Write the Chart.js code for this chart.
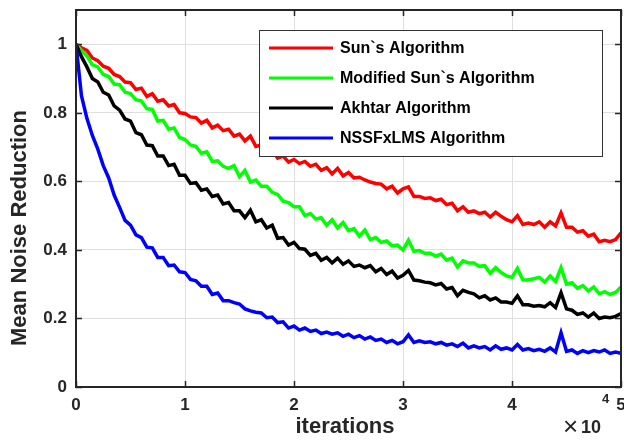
<!DOCTYPE html>
<html>
<head>
<meta charset="utf-8">
<script src="https://cdn.jsdelivr.net/npm/chart.js@4.4.0/dist/chart.umd.min.js"></script>
<style>
html, body { margin: 0; padding: 0; background: #fff; }
#wrap { width: 624px; height: 448px; }
</style>
</head>
<body>
<div id="wrap"><canvas id="chart" width="624" height="448"></canvas></div>
<script>
// --- Data (x in iterations) ---
const iterations = [
    0, 500, 1000, 1500, 2000, 2500, 3000, 3500, 4000, 4500,
    5000, 5500, 6000, 6500, 7000, 7500, 8000, 8500, 9000, 9500,
    10000, 10500, 11000, 11500, 12000, 12500, 13000, 13500, 14000, 14500,
    15000, 15500, 16000, 16500, 17000, 17500, 18000, 18500, 19000, 19500,
    20000, 20500, 21000, 21500, 22000, 22500, 23000, 23500, 24000, 24500,
    25000, 25500, 26000, 26500, 27000, 27500, 28000, 28500, 29000, 29500,
    30000, 30500, 31000, 31500, 32000, 32500, 33000, 33500, 34000, 34500,
    35000, 35500, 36000, 36500, 37000, 37500, 38000, 38500, 39000, 39500,
    40000, 40500, 41000, 41500, 42000, 42500, 43000, 43500, 44000, 44500,
    45000, 45500, 46000, 46500, 47000, 47500, 48000, 48500, 49000, 49500,
    50000
];

const sunAlgorithm = [
    1.000, 0.990, 0.982, 0.960, 0.952, 0.936, 0.930, 0.912, 0.906, 0.890,
    0.888, 0.868, 0.872, 0.848, 0.856, 0.834, 0.838, 0.820, 0.824, 0.800,
    0.798, 0.788, 0.786, 0.770, 0.778, 0.756, 0.764, 0.748, 0.752, 0.732,
    0.738, 0.718, 0.732, 0.702, 0.706, 0.688, 0.690, 0.668, 0.674, 0.656,
    0.664, 0.652, 0.658, 0.644, 0.650, 0.632, 0.640, 0.622, 0.638, 0.616,
    0.626, 0.610, 0.612, 0.604, 0.598, 0.594, 0.592, 0.578, 0.586, 0.566,
    0.578, 0.584, 0.556, 0.556, 0.550, 0.552, 0.544, 0.548, 0.532, 0.536,
    0.514, 0.526, 0.510, 0.514, 0.506, 0.510, 0.496, 0.510, 0.498, 0.488,
    0.482, 0.500, 0.474, 0.478, 0.474, 0.482, 0.466, 0.482, 0.470, 0.508,
    0.466, 0.466, 0.452, 0.456, 0.440, 0.446, 0.424, 0.428, 0.424, 0.430,
    0.450
];

const modifiedSun = [
    1.000, 0.982, 0.966, 0.940, 0.934, 0.912, 0.906, 0.884, 0.882, 0.860,
    0.856, 0.838, 0.834, 0.812, 0.810, 0.776, 0.778, 0.752, 0.756, 0.728,
    0.722, 0.706, 0.702, 0.682, 0.686, 0.658, 0.660, 0.644, 0.638, 0.646,
    0.614, 0.632, 0.598, 0.604, 0.586, 0.586, 0.568, 0.562, 0.542, 0.538,
    0.526, 0.526, 0.500, 0.506, 0.490, 0.494, 0.472, 0.488, 0.464, 0.480,
    0.456, 0.462, 0.440, 0.458, 0.430, 0.436, 0.422, 0.426, 0.412, 0.414,
    0.400, 0.428, 0.396, 0.398, 0.390, 0.390, 0.382, 0.388, 0.370, 0.376,
    0.350, 0.368, 0.362, 0.362, 0.352, 0.354, 0.332, 0.348, 0.334, 0.324,
    0.320, 0.346, 0.312, 0.312, 0.316, 0.320, 0.306, 0.324, 0.308, 0.348,
    0.300, 0.304, 0.288, 0.296, 0.280, 0.292, 0.272, 0.278, 0.270, 0.276,
    0.292
];

const akhtar = [
    1.000, 0.964, 0.934, 0.900, 0.890, 0.860, 0.852, 0.820, 0.808, 0.782,
    0.776, 0.742, 0.736, 0.706, 0.704, 0.674, 0.674, 0.646, 0.650, 0.618,
    0.618, 0.594, 0.596, 0.574, 0.578, 0.556, 0.560, 0.534, 0.538, 0.514,
    0.514, 0.494, 0.516, 0.482, 0.488, 0.464, 0.472, 0.434, 0.436, 0.414,
    0.422, 0.404, 0.402, 0.384, 0.390, 0.370, 0.378, 0.362, 0.376, 0.358,
    0.368, 0.352, 0.356, 0.348, 0.354, 0.336, 0.346, 0.328, 0.338, 0.318,
    0.326, 0.340, 0.312, 0.310, 0.306, 0.304, 0.298, 0.302, 0.286, 0.290,
    0.266, 0.282, 0.276, 0.272, 0.260, 0.266, 0.254, 0.260, 0.248, 0.248,
    0.244, 0.266, 0.240, 0.240, 0.236, 0.238, 0.234, 0.246, 0.232, 0.275,
    0.228, 0.224, 0.212, 0.216, 0.204, 0.216, 0.200, 0.204, 0.202, 0.206,
    0.214
];

const nssfxlms = [
    1.000, 0.850, 0.784, 0.734, 0.694, 0.646, 0.610, 0.560, 0.524, 0.486,
    0.472, 0.444, 0.436, 0.408, 0.406, 0.378, 0.378, 0.354, 0.356, 0.336,
    0.334, 0.314, 0.310, 0.294, 0.294, 0.270, 0.274, 0.252, 0.252, 0.246,
    0.242, 0.228, 0.222, 0.218, 0.216, 0.202, 0.204, 0.188, 0.190, 0.172,
    0.178, 0.166, 0.172, 0.162, 0.166, 0.156, 0.160, 0.154, 0.158, 0.148,
    0.154, 0.144, 0.150, 0.140, 0.146, 0.136, 0.140, 0.130, 0.136, 0.126,
    0.132, 0.152, 0.130, 0.135, 0.130, 0.132, 0.126, 0.130, 0.122, 0.126,
    0.118, 0.128, 0.114, 0.120, 0.114, 0.118, 0.108, 0.120, 0.110, 0.114,
    0.108, 0.124, 0.108, 0.112, 0.106, 0.110, 0.104, 0.114, 0.102, 0.158,
    0.104, 0.108, 0.098, 0.106, 0.100, 0.106, 0.102, 0.108, 0.098, 0.102,
    0.098
];

const seriesLabels = ['Sun`s Algorithm', 'Modified Sun`s Algorithm', 'Akhtar Algorithm', 'NSSFxLMS Algorithm'];
const seriesColors = ['#ff0000', '#00ff00', '#000000', '#0000ff'];
const seriesValues = [sunAlgorithm, modifiedSun, akhtar, nssfxlms];

const xTicks = [0, 10000, 20000, 30000, 40000, 50000];
const yTicks = [0, 0.2, 0.4, 0.6, 0.8, 1];

const FONT = '"Liberation Sans", Arial, Helvetica, sans-serif';
const AXIS_COLOR = '#262626';

// --- MATLAB-style box, inward ticks, titles and legend ---
const matlabAxes = {
    id: 'matlabAxes',
    afterDraw(chart) {
        const ctx = chart.ctx;
        const a = chart.chartArea;
        const xs = chart.scales.x;
        const ys = chart.scales.y;
        ctx.save();

        // box
        ctx.strokeStyle = AXIS_COLOR;
        ctx.lineWidth = 2;
        ctx.strokeRect(a.left, a.top, a.right - a.left, a.bottom - a.top);

        // inward tick marks
        ctx.lineWidth = 1.5;
        ctx.beginPath();
        xTicks.forEach(v => {
            const px = Math.round(xs.getPixelForValue(v)) + 0.5;
            ctx.moveTo(px, a.bottom); ctx.lineTo(px, a.bottom - 6);
            ctx.moveTo(px, a.top); ctx.lineTo(px, a.top + 6);
        });
        yTicks.forEach(v => {
            const py = Math.round(ys.getPixelForValue(v)) + 0.5;
            ctx.moveTo(a.left, py); ctx.lineTo(a.left + 6, py);
            ctx.moveTo(a.right, py); ctx.lineTo(a.right - 6, py);
        });
        ctx.stroke();

        // axis titles
        ctx.fillStyle = AXIS_COLOR;
        ctx.font = 'bold 22px ' + FONT;
        ctx.textAlign = 'center';
        ctx.textBaseline = 'alphabetic';
        ctx.fillText('iterations', 345, 433);

        ctx.save();
        ctx.translate(26, 228);
        ctx.rotate(-Math.PI / 2);
        ctx.fillText('Mean Noise Reduction', 0, 0);
        ctx.restore();

        // exponent label
        ctx.textAlign = 'left';
        ctx.font = '26px ' + FONT;
        ctx.fillText('\u00d7', 563, 435);
        ctx.font = 'bold 18px ' + FONT;
        ctx.fillText('10', 581, 433);
        ctx.font = 'bold 13px ' + FONT;
        ctx.fillText('4', 602, 403);

        // legend box
        const lx = 259, ly = 30, lw = 343, lh = 126;
        ctx.fillStyle = '#ffffff';
        ctx.fillRect(lx, ly, lw, lh);
        ctx.strokeStyle = '#333333';
        ctx.lineWidth = 1;
        ctx.strokeRect(lx + 0.5, ly + 0.5, lw, lh);

        ctx.font = 'bold 16px ' + FONT;
        ctx.textBaseline = 'middle';
        seriesLabels.forEach((label, i) => {
            const y = 48 + i * 30;
            ctx.strokeStyle = seriesColors[i];
            ctx.lineWidth = 3;
            ctx.beginPath();
            ctx.moveTo(269, y);
            ctx.lineTo(333, y);
            ctx.stroke();
            ctx.fillStyle = '#000000';
            ctx.fillText(label, 340, y + 1);
        });

        ctx.restore();
    }
};

const datasets = seriesLabels.map((label, i) => ({
    label: label,
    data: iterations.map((x, j) => ({ x: x, y: seriesValues[i][j] })),
    borderColor: seriesColors[i],
    backgroundColor: seriesColors[i],
    borderWidth: 3.5,
    pointRadius: 0,
    tension: 0,
    fill: false,
    order: 3 - i
}));

new Chart(document.getElementById('chart').getContext('2d'), {
    type: 'line',
    data: { datasets: datasets },
    options: {
        responsive: false,
        animation: false,
        devicePixelRatio: 1,
        layout: { padding: { top: 10, right: 3, left: 0, bottom: 0 } },
        plugins: {
            legend: { display: false },
            tooltip: { enabled: false }
        },
        scales: {
            x: {
                type: 'linear',
                min: 0,
                max: 50000,
                afterBuildTicks: scale => { scale.ticks = xTicks.map(v => ({ value: v })); },
                afterFit: scale => {
                    scale.height = 61;
                    scale.paddingLeft = 0;
                    scale.paddingRight = 0;
                },
                grid: { color: '#dfdfdf', lineWidth: 1, drawTicks: false },
                border: { display: false },
                ticks: {
                    padding: 8,
                    color: AXIS_COLOR,
                    font: { family: FONT, size: 17, weight: 'bold' },
                    maxRotation: 0,
                    callback: v => String(v / 10000)
                }
            },
            y: {
                type: 'linear',
                min: 0,
                max: 1.1,
                afterBuildTicks: scale => { scale.ticks = yTicks.map(v => ({ value: v })); },
                afterFit: scale => {
                    scale.width = 76;
                    scale.paddingTop = 0;
                    scale.paddingBottom = 0;
                },
                grid: { color: '#dfdfdf', lineWidth: 1, drawTicks: false },
                border: { display: false },
                ticks: {
                    padding: 9,
                    color: AXIS_COLOR,
                    font: { family: FONT, size: 17, weight: 'bold' },
                    callback: v => String(Math.round(v * 10) / 10)
                }
            }
        }
    },
    plugins: [matlabAxes]
});
</script>
</body>
</html>
